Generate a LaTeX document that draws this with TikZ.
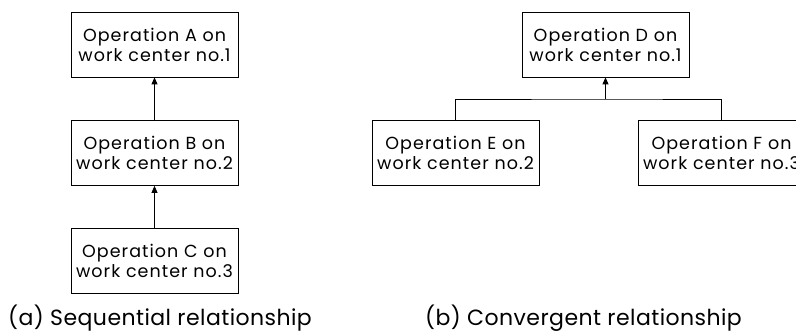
\documentclass[tikz,border=0pt]{standalone}
\usepackage{fontspec}
\setmainfont{Poppins}
\newfontfamily\boxfont{Poppins}[LetterSpace=6]
\newfontfamily\capfont{Poppins}[LetterSpace=2]
\usetikzlibrary{arrows.meta}
\begin{document}
\begin{tikzpicture}[x=1pt,y=-1pt,
  opbox/.style={draw, line width=0.8pt, minimum width=167pt, minimum height=65pt,
    inner sep=0pt, align=center, font=\boxfont\fontsize{17.5}{20}\selectfont},
  caption/.style={inner sep=0pt, anchor=west, font=\capfont\fontsize{22}{24}\selectfont},
  link/.style={line width=0.8pt, -{Triangle[width=6pt,length=7pt]}},
  plain/.style={line width=0.8pt}]
\clip (0,0) rectangle (796,336);
\fill[white] (0,0) rectangle (796,336);
\node[opbox] (A) at (154.5,44.5) {Operation A on\\work center no.1};
\node[opbox] (B) at (154.5,153) {Operation B on\\work center no.2};
\node[opbox] (C) at (154.5,260.5) {Operation C on\\work center no.3};
\node[opbox] (D) at (605.5,44.5) {Operation D on\\work center no.1};
\node[opbox] (E) at (455.5,153) {Operation E on\\work center no.2};
\node[opbox] (F) at (721.5,153) {Operation F on\\work center no.3};
\coordinate (J) at (605.5,99);
\draw[link] (B.north) -- (A.south);
\draw[link] (C.north) -- (B.south);
\draw[plain] (E.north) |- (J) -| (F.north);
\draw[link] (J) -- (D.south);
\node[caption] (capa) at (8,318) {(a) Sequential relationship};
\node[caption] (capb) at (425,318) {(b) Convergent relationship};
\end{tikzpicture}
\end{document}
